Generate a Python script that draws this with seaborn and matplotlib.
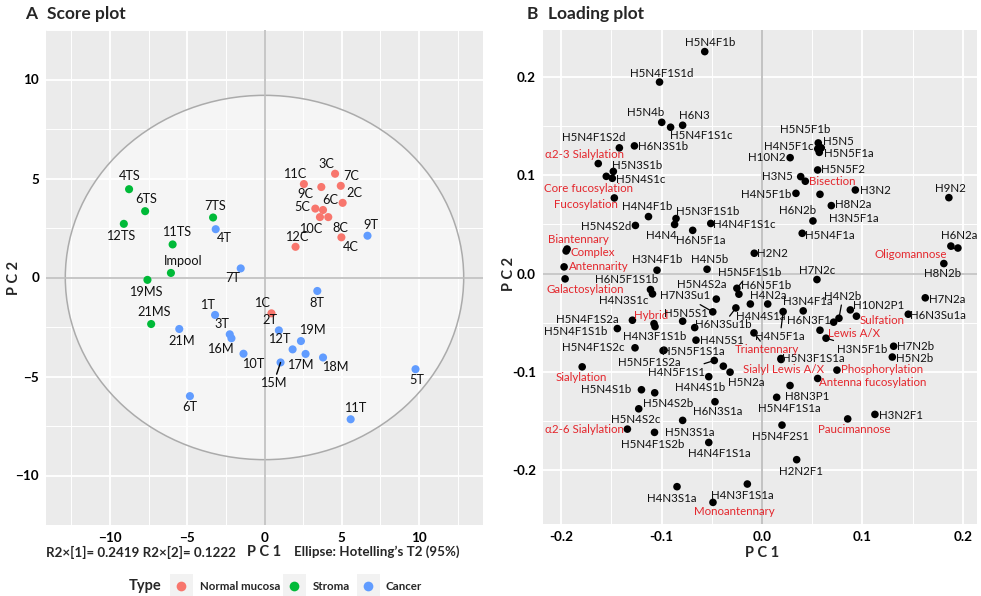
import numpy as np
import pandas as pd
import matplotlib
matplotlib.use("Agg")
import matplotlib.pyplot as plt
import seaborn as sns
from matplotlib.patches import Ellipse, Rectangle
from matplotlib.lines import Line2D

# ---------------- Score plot data ----------------
score_samples = ['1C', '2C', '3C', '4C', '5C', '6C', '7C', '8C', '9C', '10C', '11C', '12C',
                 '4TS', '6TS', '7TS', '11TS', '12TS', 'Impool', '19MS', '21MS',
                 '1T', '2T', '3T', '4T', '5T', '6T', '7T', '8T', '9T', '10T', '11T', '12T',
                 '15M', '16M', '17M', '18M', '19M', '21M']
score_pc1 = [0.45, 5.06, 4.57, 4.98, 3.29, 3.79, 4.94, 4.13, 3.68, 3.59, 2.55, 2.01,
             -8.77, -7.73, -3.33, -5.95, -9.11, -6.06, -7.58, -7.34,
             -3.20, 0.93, -2.25, -3.16, 9.78, -4.83, -1.54, 3.42, 6.67, -1.36, 5.58, 1.82,
             1.04, -2.14, 2.66, 3.79, 2.36, -5.52]
score_pc2 = [-1.81, 3.77, 5.24, 2.03, 3.48, 3.41, 4.63, 3.05, 4.57, 3.05, 4.72, 1.55,
             4.46, 3.35, 3.03, 1.67, 2.71, 0.23, -0.12, -2.35,
             -1.89, -2.67, -2.87, 2.44, -4.63, -5.99, 0.46, -0.68, 2.11, -3.85, -7.16, -3.63,
             -4.29, -3.07, -3.86, -4.04, -3.21, -2.60]
score_type = ['Normal mucosa'] * 12 + ['Stroma'] * 8 + ['Cancer'] * 18
type_order = ['Normal mucosa', 'Stroma', 'Cancer']
type_colors = ['#F8766D', '#00BA38', '#619CFF']
ellipse_radius = [12.9, 9.2]

# ---------------- Loading plot data ----------------
load_labels = ['H5N4F1b', 'H5N4F1S1d', 'H5N4b', 'H5N4F1S1c', 'H6N3', 'H5N4F1S2d', 'H6N3S1b',
               'α2-3 Sialylation', 'H5N3S1b', 'H5N4S1c', 'Core fucosylation', 'Fucosylation',
               'H4N4F1b', 'H5N4S2d', 'H5N3F1S1b', 'H4N4', 'H4N4F1S1c', 'H6N5F1a',
               'Biantennary', 'Complex', 'Antennarity', 'Galactosylation', 'H2N2', 'H3N4F1b',
               'H4N5b', 'H5N5F1S1b', 'H6N5F1b', 'H6N5F1S1b', 'H4N3S1c', 'H5N4S2a', 'H7N3Su1',
               'H6N3Su1b', 'H4N4S1a', 'H4N2a', 'Hybrid', 'H4N3F1S1b', 'H5N4F1S2a', 'H5N4F1S1b',
               'H5N5S1', '', 'H4N5S1', 'H5N4F1S2c', 'H5N5F1S1a', 'H5N5F1S2a', 'H4N5F1S1', ' ',
               'H5N2a', 'Sialylation', 'H5N4S1b', 'H5N4S2b', 'H4N4S1b', 'H6N3S1a', 'H5N4S2c',
               'α2-6 Sialylation', 'H5N4F1S2b', 'H5N3S1a', 'H4N4F1S1a', 'H4N3S1a', 'Monoantennary',
               'H4N3F1S1a', 'H2N2F1', 'H5N4F2S1', 'Paucimannose', 'H3N2F1', 'H5N4F1S1a', 'H8N3P1',
               'Antenna fucosylation', 'Phosphorylation', 'H5N3F1S1a', 'Sialyl Lewis A/X',
               'Triantennary', 'H4N5F1a', 'H3N4F1a', 'H6N3F1', 'H3N5F1b', 'Lewis A/X', 'H4N2b',
               'H10N2P1', 'Sulfation', 'H7N2c', 'H6N3Su1a', 'H7N2a', 'H7N2b', 'H5N2b', 'H8N2b',
               'H6N2a', 'Oligomannose', 'H9N2', 'H5N4F1a', 'H6N2b', 'H8N2a', 'H3N5F1a', 'H4N5F1b',
               'H3N2', 'Bisection', 'H3N5', 'H5N5F2', 'H10N2', 'H5N5F1a', 'H5N5', 'H4N5F1c',
               'H5N5F1b']
load_pc1 = [-0.057, -0.102, -0.0998, -0.091, -0.079, -0.142, -0.127,
            -0.163, -0.148, -0.149, -0.155, -0.147,
            -0.113, -0.126, -0.0856, -0.087, -0.051, -0.069,
            -0.194, -0.195, -0.197, -0.196, -0.0077, -0.1045,
            -0.0547, -0.025, -0.023, -0.111, -0.109, -0.0455, -0.049,
            -0.026, -0.0116, 0.0057, -0.1075, -0.1065, -0.129, -0.144,
            -0.079, -0.067, -0.0657, -0.1264, -0.0975, -0.0985, -0.0475, -0.0385,
            -0.0318, -0.179, -0.120, -0.1068, -0.053, -0.0468, -0.1227,
            -0.134, -0.107, -0.079, -0.053, -0.0846, -0.0488,
            -0.0146, 0.0345, 0.0199, 0.0853, 0.1124, 0.0146, 0.0279,
            0.0554, 0.0746, 0.0189, 0.0190,
            -0.008, 0.021, 0.041, 0.0577, 0.0637, 0.0713, 0.0766,
            0.0879, 0.094, 0.0547, 0.1456, 0.1625, 0.131, 0.1297, 0.181,
            0.188, 0.195, 0.186, 0.040, 0.0507, 0.069, 0.0577, 0.0338,
            0.0929, 0.0431, 0.0385, 0.0554, 0.028, 0.057, 0.059, 0.0555,
            0.056]
load_pc2 = [0.226, 0.195, 0.154, 0.149, 0.151, 0.128, 0.130,
            0.112, 0.104, 0.097, 0.099, 0.077,
            0.058, 0.049, 0.056, 0.050, 0.051, 0.044,
            0.025, 0.023, 0.0068, -0.0054, 0.0207, 0.0034,
            0.0044, -0.015, -0.021, -0.0163, -0.0207, -0.026, -0.039,
            -0.035, -0.031, -0.031, -0.051, -0.054, -0.0475, -0.056,
            -0.0485, -0.055, -0.0678, -0.0756, -0.078, -0.0785, -0.0885, -0.0943,
            -0.1004, -0.095, -0.1183, -0.1214, -0.105, -0.1305, -0.1377,
            -0.1584, -0.1617, -0.1495, -0.172, -0.217, -0.233,
            -0.2143, -0.1895, -0.1543, -0.148, -0.1434, -0.126, -0.114,
            -0.1068, -0.0983, -0.0865, -0.0875,
            -0.0604, -0.0387, -0.038, -0.0577, -0.0658, -0.0495, -0.0455,
            -0.037, -0.0434, -0.0061, -0.0414, -0.0247, -0.074, -0.085, 0.0102,
            0.028, 0.026, 0.0773, 0.041, 0.0536, 0.0692, 0.0807, 0.0817,
            0.0851, 0.094, 0.0987, 0.1055, 0.118, 0.1234, 0.128, 0.127,
            0.133]
derived_traits = ['α2-3 Sialylation', 'Core fucosylation', 'Fucosylation', 'Biantennary',
                  'Complex', 'Antennarity', 'Galactosylation', 'Hybrid', 'Sialylation',
                  'α2-6 Sialylation', 'Monoantennary', 'Paucimannose', 'Antenna fucosylation',
                  'Phosphorylation', 'Sialyl Lewis A/X', 'Triantennary', 'Lewis A/X',
                  'Sulfation', 'Oligomannose', 'Bisection']

# ---------------- label placement (style, pixels: dx right, dy down) ----------------
score_offsets = {
    '1C': (-9, -10), '2C': (12, -10), '3C': (-9, -10), '4C': (9, 10), '5C': (-13, -2),
    '6C': (7, -10), '7C': (10, -10), '8C': (12, 11), '9C': (-16, 7), '10C': (-9, 12),
    '11C': (-9, -10), '12C': (1, -10),
    '4TS': (1, -13), '6TS': (1, -12), '7TS': (2, -12), '11TS': (4, -12), '12TS': (-3, 12),
    'Impool': (12, -12), '19MS': (-2, 12), '21MS': (3, -12),
    '1T': (-8, -10), '2T': (-9, -10), '3T': (-8, -10), '4T': (9, 9), '5T': (1, 11),
    '6T': (0, 11), '7T': (-8, 10), '8T': (0, 12), '9T': (3, -11), '10T': (10, 10),
    '11T': (4, -11), '12T': (-13, -10), '15M': (-7, 21), '16M': (-11, 11), '17M': (-5, 11),
    '18M': (12, 10), '19M': (11, -11), '21M': (2, 12)}
score_leaders = {'15M'}

load_offsets = {
    'H5N4F1b': (5, -9), 'H5N4F1S1d': (2, -9), 'H5N4b': (-16, -10), 'H5N4F1S1c': (31, 8),
    'H6N3': (12, -10), 'H5N4F1S2d': (-26, -10), 'H6N3S1b': (29, 1), 'α2-3 Sialylation': (-14, -9),
    'H5N3S1b': (24, -6), 'H5N4S1c': (28, 1), 'Core fucosylation': (-18, 12), 'Fucosylation': (-28, 7),
    'H4N4F1b': (-1, -10), 'H5N4S2d': (-29, 1), 'H5N3F1S1b': (32, -7), 'H4N4': (-13, 11),
    'H4N4F1S1c': (33, 1), 'H6N5F1a': (8, 10), 'Biantennary': (11, -10), 'Complex': (27, 2),
    'Antennarity': (35, 0), 'Galactosylation': (20, 11), 'H2N2': (18, 0), 'H3N4F1b': (0, -11),
    'H4N5b': (3, -10), 'H5N5F1S1b': (13, -16), 'H6N5F1b': (27, -9), 'H6N5F1S1b': (-24, -10),
    'H4N3S1c': (-29, 7), 'H5N4S2a': (-15, -15), 'H7N3Su1': (-28, -16), 'H6N3Su1b': (-13, 17),
    'H4N4S1a': (10, 12), 'H4N2a': (1, -9), 'Hybrid': (-3, -8), 'H4N3F1S1b': (0, 10),
    'H5N4F1S2a': (-45, -1), 'H5N4F1S1b': (-42, 3), 'H5N5S1': (3, -8), 'H4N5S1': (26, 0),
    'H5N4F1S2c': (-42, 0), 'H5N5F1S1a': (29, 1), 'H5N5F1S2a': (-14, 12), 'H4N5F1S1': (-38, 12),
    'H5N2a': (16, 10), 'Sialylation': (-1, 11), 'H5N4S1b': (-35, 0), 'H5N4S2b': (13, 11),
    'H4N4S1b': (-9, 11), 'H6N3S1a': (3, 10), 'H5N4S2c': (-3, 11), 'α2-6 Sialylation': (-43, 0),
    'H5N4F1S2b': (-2, 12), 'H5N3S1a': (7, 12), 'H4N4F1S1a': (11, 11), 'H4N3S1a': (-5, 12),
    'Monoantennary': (21, 9), 'H4N3F1S1a': (-5, 11), 'H2N2F1': (4, 12), 'H5N4F2S1': (-2, 11),
    'Paucimannose': (7, 11), 'H3N2F1': (26, 1), 'H5N4F1S1a': (13, 11), 'H8N3P1': (17, 11),
    'Antenna fucosylation': (55, 4), 'Phosphorylation': (45, -1), 'H5N3F1S1a': (32, 0),
    'Sialyl Lewis A/X': (2, 10), 'Triantennary': (13, 17), 'H4N5F1a': (-3, 25),
    'H3N4F1a': (5, -9), 'H6N3F1': (-11, -10), 'H3N5F1b': (36, 11), 'Lewis A/X': (20, 11),
    'H4N2b': (4, -22), 'H10N2P1': (28, -4), 'Sulfation': (26, 4), 'H7N2c': (0, -9),
    'H6N3Su1a': (30, 1), 'H7N2a': (22, 2), 'H7N2b': (22, 0), 'H5N2b': (22, 1), 'H8N2b': (-1, 10),
    'H6N2a': (8, -11), 'Oligomannose': (-47, 6), 'H9N2': (2, -9), 'H5N4F1a': (28, 2),
    'H6N2b': (-15, -10), 'H8N2a': (22, -1), 'H3N5F1a': (34, 24), 'H4N5F1b': (-30, 1),
    'H3N2': (20, 1), 'Bisection': (27, 0), 'H3N5': (-23, 0), 'H5N5F2': (25, 0), 'H10N2': (-23, 0),
    'H5N5F1a': (30, 1), 'H5N5': (17, -6), 'H4N5F1c': (-29, -2), 'H5N5F1b': (-13, -13)}
load_leaders = {'H5N5F1S1b', 'H7N3Su1', 'H6N3Su1b', 'H4N5F1S1', 'Triantennary', 'H4N5F1a',
                'H3N5F1b', 'H4N2b', 'Oligomannose'}

# ---------------- figure ----------------
sns.set_theme(style="white")
plt.rcParams['font.family'] = ['Lato', 'DejaVu Sans']
W, H = 981, 596
fig = plt.figure(figsize=(W / 100, H / 100), dpi=100)
fig.patch.set_facecolor('white')


def fx(px):
    return px / W


def fy(py):
    return 1 - py / H


axA = fig.add_axes([fx(46), fy(525), 437 / W, 495 / H])
axB = fig.add_axes([fx(543), fy(524), 434 / W, 494 / H])


def gg_style(ax, major, minor, lims_x, lims_y, fmt):
    ax.set_facecolor('#EBEBEB')
    for s in ax.spines.values():
        s.set_visible(False)
    ax.set_xlim(*lims_x)
    ax.set_ylim(*lims_y)
    ax.set_xticks(major)
    ax.set_yticks(major)
    ax.set_xticks(minor, minor=True)
    ax.set_yticks(minor, minor=True)
    ax.set_xticklabels([fmt(v) for v in major])
    ax.set_yticklabels([fmt(v) for v in major])
    ax.grid(which='major', color='white', lw=1.3, zorder=0)
    ax.grid(which='minor', color='white', lw=0.7, zorder=0)
    ax.set_axisbelow(True)
    ax.tick_params(which='major', length=3, width=0.9, color='#333333', labelsize=9.7,
                   pad=2, labelcolor='black')
    ax.tick_params(which='minor', length=0)
    for lbl in ax.get_xticklabels() + ax.get_yticklabels():
        lbl.set_fontweight('bold')


# ---- panel A ----
gg_style(axA, [-10, -5, 0, 5, 10], [-12.5, -7.5, -2.5, 2.5, 7.5, 12.5],
         (-14.15, 14.15), (-10.1, 10.12), lambda v: f"{v:d}".replace('-', '\u2212'))
axA.add_patch(Ellipse((0, 0), 2 * ellipse_radius[0], 2 * ellipse_radius[1],
                      facecolor=(1, 1, 1, 0.55), edgecolor='#ABABAB', lw=1.1, zorder=1))
axA.axhline(0, color='#BDBDBD', lw=1.2, zorder=1.5)
axA.axvline(0, color='#BDBDBD', lw=1.2, zorder=1.5)

dfA = pd.DataFrame({'sample': score_samples, 'PC1': score_pc1, 'PC2': score_pc2, 'Type': score_type})
sns.scatterplot(data=dfA, x='PC1', y='PC2', hue='Type', hue_order=type_order, palette=type_colors,
                s=34, edgecolor='none', linewidth=0, legend=False, ax=axA, zorder=3)
for name, x, y in zip(score_samples, score_pc1, score_pc2):
    dx, dy = score_offsets[name]
    kw = {}
    if name in score_leaders:
        kw['arrowprops'] = dict(arrowstyle='-', color='black', lw=1.0, shrinkA=0, shrinkB=0)
    axA.annotate(name, (x, y), xytext=(dx, -dy), textcoords='offset pixels', ha='center',
                 va='center', fontsize=9.2, color='#111111', zorder=4, **kw)
axA.set_xlabel('')
axA.set_ylabel('')

# ---- panel B ----
gg_style(axB, [-0.2, -0.1, 0.0, 0.1, 0.2], [-0.15, -0.05, 0.05, 0.15],
         (-0.218, 0.214), (-0.255, 0.248), lambda v: f"{v:.1f}")
axB.axhline(0, color='#C4C4C4', lw=1.3, zorder=1.5)
axB.axvline(0, color='#BDBDBD', lw=1.3, zorder=1.5)
dfB = pd.DataFrame({'label': load_labels, 'PC1': load_pc1, 'PC2': load_pc2})
sns.scatterplot(data=dfB, x='PC1', y='PC2', color='black', s=30, edgecolor='none', linewidth=0,
                legend=False, ax=axB, zorder=3)
for name, x, y in zip(load_labels, load_pc1, load_pc2):
    if name.strip() == '':
        continue
    dx, dy = load_offsets[name]
    kw = {}
    if name in load_leaders:
        kw['arrowprops'] = dict(arrowstyle='-', color='black', lw=0.9, shrinkA=0, shrinkB=0)
    col = '#E4262C' if name in derived_traits else '#111111'
    axB.annotate(name, (x, y), xytext=(dx, -dy), textcoords='offset pixels', ha='center',
                 va='center', fontsize=8.3, color=col, zorder=4, **kw)
axB.set_xlabel('')
axB.set_ylabel('')

# ---- titles and axis texts ----
fig.text(fx(25), fy(14), 'A', fontsize=12.5, fontweight='bold', va='center', ha='left')
fig.text(fx(47), fy(14), 'Score plot', fontsize=12.5, fontweight='bold', va='center', ha='left')
fig.text(fx(527), fy(14), 'B', fontsize=12.5, fontweight='bold', va='center', ha='left')
fig.text(fx(548), fy(14), 'Loading plot', fontsize=12.5, fontweight='bold', va='center', ha='left')

fig.text(fx(14), fy(278), 'P C 2', rotation=90, fontsize=10.5, fontweight='bold', va='center', ha='center')
fig.text(fx(509), fy(274), 'P C 2', rotation=90, fontsize=10.5, fontweight='bold', va='center', ha='center')
fig.text(fx(264), fy(552), 'P C 1', fontsize=10.5, fontweight='bold', va='center', ha='center')
fig.text(fx(762), fy(553), 'P C 1', fontsize=10.5, fontweight='bold', va='center', ha='center')
fig.text(fx(141), fy(552), 'R2×[1]= 0.2419 R2×[2]= 0.1222', fontsize=9.6, fontweight='bold',
         va='center', ha='center')
fig.text(fx(377), fy(552), 'Ellipse: Hotelling’s T2 (95%)', fontsize=9.6, fontweight='bold',
         va='center', ha='center')

# ---- legend (manual, ggplot-like) ----
fig.text(fx(145), fy(586), 'Type', fontsize=10.5, fontweight='bold', va='center', ha='center')
key_centers = [181, 294, 368]
text_left = [200, 313, 386]
for lab, col, kc, tl in zip(type_order, type_colors, key_centers, text_left):
    fig.add_artist(Rectangle((fx(kc - 11.5), fy(597)), 23 / W, 23 / H, transform=fig.transFigure,
                             facecolor='#F2F2F2', edgecolor='none'))
    fig.add_artist(Line2D([fx(kc)], [fy(585.5)], marker='o', markersize=7, color=col,
                          markeredgewidth=0, transform=fig.transFigure))
    fig.text(fx(tl), fy(586), lab, fontsize=8.3, fontweight='bold', va='center', ha='left')

fig.savefig('out.png', dpi=100)
